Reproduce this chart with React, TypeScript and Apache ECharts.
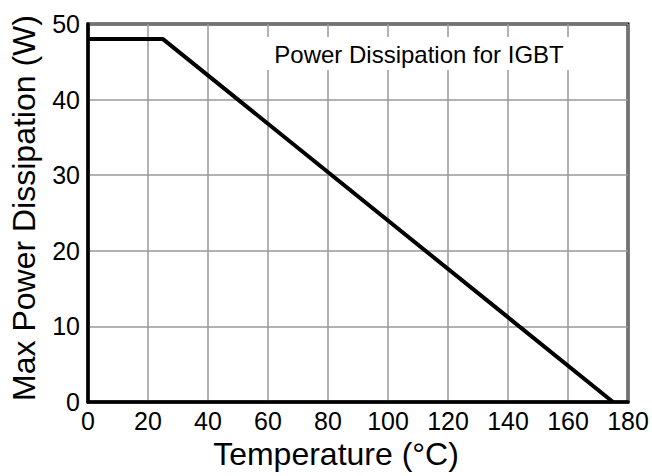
import React, { useEffect, useRef } from "react";
import * as echarts from "echarts";

const temperatures: number[] = [0, 25, 175];
const powerValues: number[] = [48, 48, 0];
const xTicks = { min: 0, max: 180, interval: 20 };
const yTicks = { min: 0, max: 50, interval: 10 };
const chartTitle = "Power Dissipation for IGBT";
const xAxisTitle = "Temperature (°C)";
const yAxisTitle = "Max Power Dissipation (W)";

const FONT = "'Liberation Sans', Arial, Helvetica, sans-serif";

export default function App() {
  const ref = useRef<HTMLDivElement>(null);
  useEffect(() => {
    if (!ref.current) return;
    const chart = echarts.init(ref.current, undefined, { renderer: "svg" });
    const data = temperatures.map((t, i) => [t, powerValues[i]]);
    chart.setOption({
      animation: false,
      backgroundColor: "#ffffff",
      textStyle: { fontFamily: FONT },
      grid: {
        left: 88,
        top: 24,
        right: 24,
        bottom: 74,
        show: true,
        borderColor: "#000",
        borderWidth: 3,
        backgroundColor: "transparent",
      },
      xAxis: {
        type: "value",
        min: xTicks.min,
        max: xTicks.max,
        interval: xTicks.interval,
        axisLine: { show: true, onZero: false, lineStyle: { color: "#000", width: 3.5 } },
        axisTick: { show: false },
        axisLabel: { color: "#000", fontSize: 25, fontFamily: FONT, margin: 6 },
        splitLine: { show: true, lineStyle: { color: "#999", width: 1.5 } },
      },
      yAxis: {
        type: "value",
        min: yTicks.min,
        max: yTicks.max,
        interval: yTicks.interval,
        axisLine: { show: true, onZero: false, lineStyle: { color: "#000", width: 3.5 } },
        axisTick: { show: false },
        axisLabel: { color: "#000", fontSize: 25, fontFamily: FONT, margin: 8 },
        splitLine: { show: true, lineStyle: { color: "#999", width: 1.5 } },
      },
      graphic: [
        {
          type: "rect",
          shape: { x: 264, y: 37, width: 307, height: 33 },
          style: { fill: "#fff" },
          z: 50,
        },
        {
          type: "text",
          x: 419,
          y: 54,
          style: {
            text: chartTitle,
            fontSize: 24,
            fontFamily: FONT,
            fill: "#000",
            align: "center",
            verticalAlign: "middle",
          },
          z: 51,
        },
        {
          type: "text",
          x: 336,
          y: 454,
          style: {
            text: xAxisTitle,
            fontSize: 32,
            fontFamily: FONT,
            fill: "#000",
            align: "center",
            verticalAlign: "middle",
          },
        },
        {
          type: "text",
          x: 24,
          y: 208,
          rotation: Math.PI / 2,
          style: {
            text: yAxisTitle,
            fontSize: 32,
            fontFamily: FONT,
            fill: "#000",
            align: "center",
            verticalAlign: "middle",
          },
        },
      ],
      series: [
        {
          type: "line",
          data,
          showSymbol: false,
          symbol: "none",
          lineStyle: { color: "#000", width: 4 },
          z: 10,
        },
      ],
    });
    return () => chart.dispose();
  }, []);
  return (
    <div
      ref={ref}
      style={{ position: "fixed", left: 0, top: 0, width: 652, height: 476 }}
    />
  );
}
